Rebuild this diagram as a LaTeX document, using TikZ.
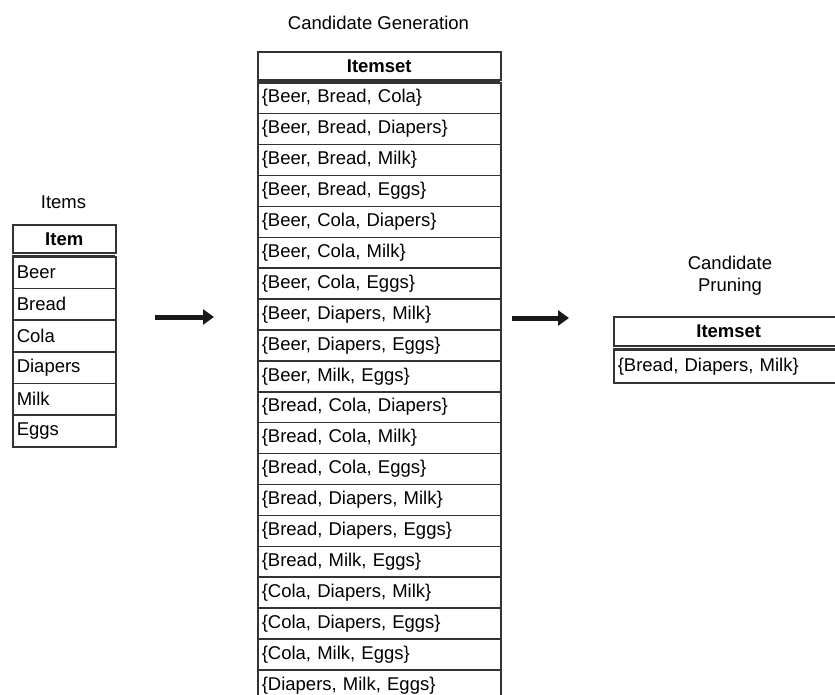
\documentclass[tikz,border=0pt]{standalone}
\usepackage{fontspec}
\setmainfont{Liberation Sans}
\usetikzlibrary{arrows.meta}
\definecolor{rule}{HTML}{333333}
\tikzset{
  cell/.style={draw=rule, line width=1.5pt, rectangle, anchor=north west,
    inner xsep=4pt, inner ysep=0pt, font=\fontsize{18.5}{20}\selectfont,
    align=left},
  head/.style={cell, align=center, font=\fontsize{18.5}{20}\selectfont\bfseries},
  title/.style={font=\fontsize{18.5}{22}\selectfont, align=center},
  flow/.style={line width=5pt, -{Triangle[length=11pt,width=15pt]}, color=black!90},
  doublerule/.style={draw=rule, line width=1.5pt}
}
\begin{document}
\begin{tikzpicture}[x=1pt,y=-1pt]
\useasboundingbox (0,0) rectangle (835,694);

% ---- Items table ----
\node[title] (itemsT) at (63.5,202) {Items};
\node[head, text width=95pt, minimum height=28pt] (itemH) at (12,224) {Item};
\draw[doublerule] (12,256) -- (115,256);
\foreach \t [count=\i from 0] in {Beer,Bread,Cola,Diapers,Milk,Eggs}{
  \node[cell, text width=95pt, minimum height=31.67pt] (item\i) at (12,256+31.67*\i) {\t};
}

% ---- Candidate generation table ----
\node[title] (genT) at (378.5,23) {Candidate Generation};
\node[head, text width=235pt, minimum height=28pt] (genH) at (257,51) {Itemset};
\draw[draw=rule, line width=3pt] (257,80.5) -- (500,80.5);
\foreach \t [count=\i from 0] in {
  {\{Beer, Bread, Cola\}},
  {\{Beer, Bread, Diapers\}},
  {\{Beer, Bread, Milk\}},
  {\{Beer, Bread, Eggs\}},
  {\{Beer, Cola, Diapers\}},
  {\{Beer, Cola, Milk\}},
  {\{Beer, Cola, Eggs\}},
  {\{Beer, Diapers, Milk\}},
  {\{Beer, Diapers, Eggs\}},
  {\{Beer, Milk, Eggs\}},
  {\{Bread, Cola, Diapers\}},
  {\{Bread, Cola, Milk\}},
  {\{Bread, Cola, Eggs\}},
  {\{Bread, Diapers, Milk\}},
  {\{Bread, Diapers, Eggs\}},
  {\{Bread, Milk, Eggs\}},
  {\{Cola, Diapers, Milk\}},
  {\{Cola, Diapers, Eggs\}},
  {\{Cola, Milk, Eggs\}},
  {\{Diapers, Milk, Eggs\}}}{
  \node[cell, text width=235pt, minimum height=30.9pt] (gen\i) at (257,82+30.9*\i) {\t};
}

% ---- Candidate pruning table (runs past the right edge) ----
\node[title] (pruneT) at (730,276) {Candidate\\Pruning};
\node[head, text width=222pt, minimum height=29pt] (pruneH) at (613,316) {Itemset};
\draw[doublerule] (613,349) -- (845,349);
\node[cell, text width=222pt, minimum height=33pt] (prune0) at (613,349) {\{Bread, Diapers, Milk\}};

% ---- flow arrows ----
\coordinate (a1s) at (155,317);
\coordinate (a1e) at (214,317);
\coordinate (a2s) at (512,318);
\coordinate (a2e) at (569,318);
\draw[flow] (a1s) -- (a1e);
\draw[flow] (a2s) -- (a2e);
\end{tikzpicture}
\end{document}
